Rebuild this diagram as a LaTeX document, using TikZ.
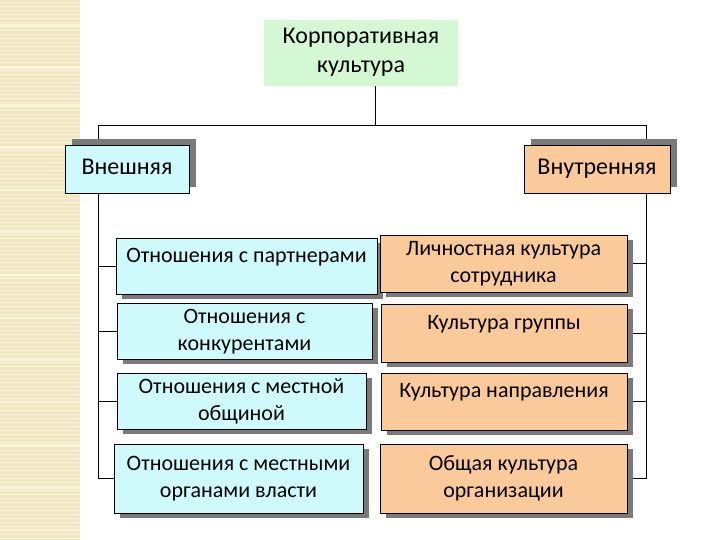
\documentclass[tikz,border=0pt]{standalone}
\usepackage{fontspec}
\setmainfont{Carlito}
\usetikzlibrary{shadows}
\usetikzlibrary{backgrounds}

\definecolor{stripebg}{RGB}{242,231,195}
\definecolor{stripelight}{RGB}{250,244,222}
\definecolor{greenbox}{RGB}{212,248,212}
\definecolor{bluebox}{RGB}{206,250,252}
\definecolor{orangebox}{RGB}{250,202,155}
\definecolor{shadowgray}{RGB}{122,122,122}

\begin{document}
\begin{tikzpicture}[x=1pt,y=-1pt,
  box/.style={line width=0.8pt,align=center,inner sep=2pt,text depth=3pt,
    font=\fontsize{22}{27}\selectfont},
  head/.style={box,text depth=5pt,font=\fontsize{24}{29}\selectfont},
  oneline/.style={text depth=22pt},
  shade dr/.style={drop shadow={shadow xshift=6pt,shadow yshift=-5pt,fill=shadowgray,opacity=1}},
  shade ur/.style={drop shadow={shadow xshift=7pt,shadow yshift=6pt,fill=shadowgray,opacity=1}},
  outer/.style={box,draw=black,fill=bluebox,shade dr},
  inner/.style={box,draw=black,fill=orangebox,shade dr},
  link/.style={draw=black,line width=0.8pt}]
  \useasboundingbox (0,0) rectangle (720,540);

  % left stripe
  \fill[stripebg] (0,0) rectangle (80,540);
  \foreach \y in {2,6,...,540}
    \draw[stripelight,line width=0.8pt] (0,\y) -- (80,\y);
  \foreach \y in {25,68,105,148,190,232,275,318,360,402,445,488,530}
    \draw[stripelight,line width=2pt] (0,\y) -- (80,\y);

  \node[head,fill=greenbox,minimum width=194pt,minimum height=66pt]
    (kult) at (361,53) {Корпоративная\\культура};

  \node[head,draw=black,fill=bluebox,shade ur,minimum width=124pt,minimum height=48pt]
    (vnesh) at (127,169) {Внешняя};
  \node[head,draw=black,fill=orangebox,shade ur,minimum width=146pt,minimum height=48pt]
    (vnutr) at (597,169) {Внутренняя};

  \node[outer,oneline,minimum width=261pt,minimum height=56pt] (p1) at (246.5,266) {Отношения с партнерами};
  \node[outer,minimum width=255pt,minimum height=56pt] (p2) at (244.5,331) {Отношения с\\конкурентами};
  \node[outer,minimum width=249pt,minimum height=56pt] (p3) at (241.5,401) {Отношения с местной\\общиной};
  \node[outer,minimum width=249pt,minimum height=69pt] (p4) at (238.5,478.5) {Отношения с местными\\органами власти};

  \node[inner,minimum width=247pt,minimum height=57pt] (i1) at (503.5,263.5) {Личностная культура\\сотрудника};
  \node[inner,oneline,minimum width=246pt,minimum height=58pt] (i2) at (504,333) {Культура группы};
  \node[inner,oneline,minimum width=246pt,minimum height=57pt] (i3) at (504,401.5) {Культура направления};
  \node[inner,minimum width=247pt,minimum height=69pt] (i4) at (503.5,478.5) {Общая культура\\организации};

  \coordinate (hub) at (375,125);
  \coordinate (lt) at (98,125);
  \coordinate (rt) at (646,125);

  \begin{scope}[on background layer]
    \draw[link] (kult.south -| hub) -- (hub);
    \draw[link] (lt) -- (rt);
    \draw[link] (lt) -- (lt |- p4.west);
    \draw[link] (rt) -- (rt |- i4.east);
    \foreach \n in {p1,p2,p3,p4}
      \draw[link] (lt |- \n.west) -- (\n.west);
    \foreach \n in {i1,i2,i3,i4}
      \draw[link] (\n.east) -- (rt |- \n.east);
  \end{scope}
\end{tikzpicture}
\end{document}
